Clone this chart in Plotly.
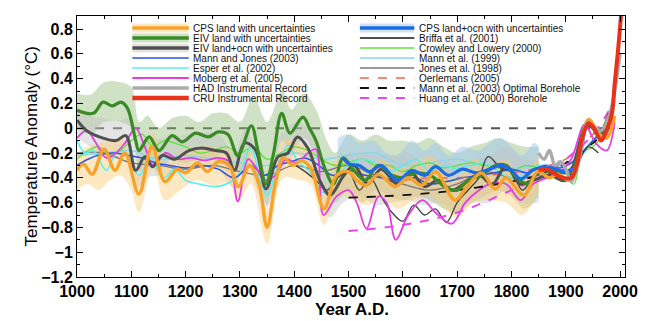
import plotly.graph_objects as go

# ---------------- DATA ----------------
cps_land_yr = [1000,1012,1028,1050,1070,1088,1114,1138,1162,1185,1200,1222,1240,1260,1280,1297,1318,1335,1350,1365,1380,1398,1412,1430,1455,1478,1500,1515,1533,1555,1585,1610,1635,1660,1696,1720,1745,1770,1790,1823,1848,1870,1885,1905,1920,1942,1962,1975,1990]
cps_land_val = [-0.34,-0.29,-0.37,-0.17,-0.34,-0.2,-0.53,-0.15,-0.43,-0.33,-0.36,-0.28,-0.35,-0.27,-0.3,-0.47,-0.3,-0.45,-0.8,-0.45,-0.24,-0.3,-0.26,-0.32,-0.65,-0.38,-0.35,-0.42,-0.46,-0.37,-0.47,-0.4,-0.46,-0.35,-0.58,-0.46,-0.36,-0.49,-0.4,-0.54,-0.35,-0.4,-0.37,-0.42,-0.3,0.07,-0.05,-0.08,0.1]

eiv_land_yr = [1000,1030,1048,1065,1081,1093,1108,1114,1133,1151,1175,1194,1218,1242,1260,1278,1296,1321,1333,1348,1362,1377,1392,1416,1428,1440,1456,1472,1490,1508,1530,1555,1580,1600,1625,1650,1680,1700,1720,1745,1770,1790,1810,1830,1850,1880,1910,1940,1960,1980]
eiv_land_val = [0.145,0.12,0.21,0.18,0.21,0.16,-0.1,-0.18,-0.07,-0.18,-0.06,-0.11,-0.04,-0.07,-0.03,-0.05,-0.22,0.02,-0.18,-0.45,-0.2,0.12,-0.04,0.09,0.0,-0.1,-0.32,-0.45,-0.24,-0.33,-0.42,-0.3,-0.38,-0.4,-0.36,-0.38,-0.48,-0.5,-0.42,-0.38,-0.3,-0.3,-0.4,-0.45,-0.35,-0.35,-0.35,0.05,-0.05,0.12]

eiv_lo_yr = [1000,1018,1048,1072,1090,1108,1125,1139,1157,1180,1206,1230,1255,1275,1290,1308,1328,1348,1370,1388,1406,1425,1448,1466,1490,1510,1535,1560,1590,1615,1640,1665,1690,1715,1740,1765,1790,1815,1840,1870,1900,1940,1965,1985]
eiv_lo_val = [0.065,-0.02,-0.08,-0.1,-0.06,-0.34,-0.23,-0.31,-0.22,-0.25,-0.18,-0.16,-0.18,-0.2,-0.34,-0.12,-0.17,-0.49,-0.23,-0.2,-0.07,-0.16,-0.43,-0.54,-0.39,-0.3,-0.45,-0.33,-0.45,-0.36,-0.47,-0.42,-0.5,-0.44,-0.38,-0.45,-0.3,-0.45,-0.42,-0.38,-0.42,0.02,-0.05,0.1]

cps_lo_yr = [1490,1502,1520,1539,1560,1590,1617,1640,1660,1684,1710,1735,1760,1781,1800,1817,1842,1870,1900,1920,1942,1965,1985]
cps_lo_val = [-0.24,-0.29,-0.3,-0.35,-0.3,-0.42,-0.34,-0.38,-0.31,-0.38,-0.33,-0.36,-0.33,-0.3,-0.34,-0.41,-0.33,-0.32,-0.35,-0.3,0.05,-0.08,0.12]

cru_yr = [1850,1865,1880,1895,1910,1920,1932,1942,1952,1965,1975,1985,1990,1996,2003]
cru_val = [-0.34,-0.33,-0.37,-0.4,-0.4,-0.3,-0.05,0.04,0.0,-0.1,-0.02,0.12,0.36,0.62,0.98]

had_yr = [1850,1860,1870,1880,1890,1900,1910,1925,1940,1950,1965,1980,1990,2000]
had_val = [-0.2,-0.25,-0.18,-0.3,-0.27,-0.33,-0.43,-0.25,0.05,0.02,-0.02,0.1,0.3,0.6]

mj_yr = [1000,1020,1045,1070,1095,1120,1145,1170,1200,1230,1260,1290,1320,1345,1370,1395,1420,1445,1470,1500,1530,1560,1590,1620,1650,1680,1710,1740,1770,1800,1830,1860,1890,1920,1950,1980]
mj_val = [-0.3,-0.25,-0.21,-0.2,-0.22,-0.24,-0.28,-0.3,-0.32,-0.3,-0.33,-0.4,-0.3,-0.38,-0.3,-0.27,-0.24,-0.3,-0.38,-0.34,-0.38,-0.4,-0.44,-0.4,-0.45,-0.43,-0.4,-0.38,-0.36,-0.33,-0.36,-0.3,-0.32,-0.25,-0.1,0.05]

esper_yr = [1000,1015,1030,1054,1072,1090,1114,1135,1160,1180,1200,1225,1254,1280,1300,1320,1339,1351,1370,1388,1406,1430,1454,1475,1500,1525,1550,1575,1600,1625,1650,1675,1700,1725,1750,1775,1800,1825,1850,1875,1900,1925,1950,1975,1990]
esper_val = [-0.1,-0.2,-0.18,-0.34,-0.2,-0.2,-0.38,-0.24,-0.4,-0.33,-0.42,-0.45,-0.47,-0.44,-0.36,-0.15,-0.45,-0.54,-0.3,-0.14,-0.26,-0.36,-0.52,-0.4,-0.3,-0.25,-0.28,-0.35,-0.3,-0.25,-0.35,-0.3,-0.33,-0.3,-0.28,-0.35,-0.4,-0.38,-0.3,-0.32,-0.36,-0.25,-0.1,-0.05,0.05]

moberg_yr = [1000,1018,1035,1054,1072,1090,1108,1125,1140,1163,1185,1210,1235,1260,1280,1296,1315,1330,1346,1365,1385,1405,1425,1440,1454,1478,1500,1515,1533,1555,1570,1587,1610,1636,1660,1690,1715,1740,1760,1790,1817,1840,1865,1890,1910,1935,1955,1975,1990]
moberg_val = [-0.08,-0.02,-0.12,-0.24,-0.2,-0.11,0.0,-0.15,-0.3,-0.2,-0.25,-0.24,-0.26,-0.24,-0.27,-0.59,-0.25,-0.32,-0.42,-0.38,-0.25,-0.28,-0.2,-0.17,-0.7,-0.55,-0.5,-0.6,-0.81,-0.55,-0.6,-0.9,-0.7,-0.58,-0.68,-0.77,-0.6,-0.5,-0.45,-0.45,-0.58,-0.45,-0.4,-0.35,-0.25,0.03,-0.12,-0.18,0.05]

crowley_yr = [1000,1020,1040,1060,1080,1100,1120,1140,1160,1180,1200,1225,1250,1275,1300,1325,1350,1375,1400,1425,1450,1475,1500,1525,1550,1575,1600,1625,1650,1675,1700,1725,1750,1775,1800,1825,1850,1875,1900,1915,1930,1950,1970]
crowley_val = [-0.25,-0.18,-0.15,-0.22,-0.18,-0.1,-0.05,-0.15,-0.1,-0.12,-0.15,-0.2,-0.18,-0.15,-0.2,-0.15,-0.25,-0.2,-0.15,-0.18,-0.25,-0.3,-0.28,-0.25,-0.3,-0.3,-0.35,-0.3,-0.28,-0.32,-0.3,-0.28,-0.3,-0.32,-0.35,-0.3,-0.32,-0.35,-0.4,-0.45,-0.2,-0.15,-0.05]

mann99_yr = [1000,1050,1100,1150,1200,1250,1300,1350,1400,1450,1500,1550,1600,1650,1700,1750,1800,1850,1900,1950,1980]
mann99_val = [-0.22,-0.2,-0.18,-0.25,-0.22,-0.25,-0.28,-0.3,-0.2,-0.25,-0.22,-0.2,-0.3,-0.28,-0.25,-0.3,-0.32,-0.3,-0.3,-0.1,0.0]

jones_yr = [1000,1050,1100,1150,1200,1250,1300,1350,1400,1450,1500,1550,1600,1650,1700,1750,1800,1850,1900,1950,1990]
jones_val = [-0.2,-0.2,-0.28,-0.3,-0.33,-0.3,-0.35,-0.38,-0.3,-0.35,-0.3,-0.38,-0.45,-0.5,-0.45,-0.35,-0.4,-0.38,-0.35,-0.1,0.0]

briffa_yr = [1402,1420,1440,1460,1480,1500,1520,1540,1560,1580,1600,1620,1640,1660,1680,1700,1720,1740,1757,1780,1800,1820,1840,1860,1880,1900,1920,1940,1960]
briffa_val = [-0.3,-0.35,-0.42,-0.5,-0.4,-0.35,-0.5,-0.4,-0.55,-0.68,-0.75,-0.62,-0.7,-0.65,-0.76,-0.6,-0.5,-0.4,-0.23,-0.32,-0.35,-0.5,-0.4,-0.35,-0.38,-0.35,-0.3,-0.15,-0.2]

oerl_yr = [1600,1650,1700,1750,1800,1850,1900,1950,1990]
oerl_val = [-0.42,-0.4,-0.4,-0.38,-0.36,-0.32,-0.25,-0.05,0.1]

mann03b_yr = [1500,1600,1700,1800,1850,1900,1950,1990]
mann03b_val = [-0.56,-0.54,-0.5,-0.43,-0.38,-0.28,-0.12,0.05]

huang_yr = [1500,1600,1700,1800,1850,1900,1950,1990]
huang_val = [-0.83,-0.78,-0.68,-0.5,-0.4,-0.25,-0.05,0.22]

# uncertainty bands
cps_land_band_yr = [1000,1020,1040,1060,1080,1100,1114,1140,1162,1190,1220,1250,1280,1297,1320,1350,1380,1410,1430,1455,1480,1510,1535,1560,1590,1620,1650,1700,1730,1760,1790,1820,1850]
cps_land_band_lo = [-0.5,-0.45,-0.5,-0.42,-0.38,-0.5,-0.68,-0.32,-0.58,-0.5,-0.42,-0.46,-0.45,-0.6,-0.45,-0.93,-0.4,-0.42,-0.45,-0.78,-0.55,-0.58,-0.62,-0.55,-0.65,-0.58,-0.55,-0.72,-0.6,-0.58,-0.6,-0.7,-0.5]
cps_land_band_hi = [-0.2,-0.15,-0.12,-0.1,-0.08,-0.2,-0.38,-0.03,-0.3,-0.2,-0.15,-0.15,-0.18,-0.33,-0.18,-0.66,-0.1,-0.12,-0.18,-0.5,-0.25,-0.3,-0.32,-0.25,-0.32,-0.28,-0.22,-0.42,-0.25,-0.3,-0.25,-0.4,-0.2]

eiv_land_band_yr = [1000,1025,1050,1080,1100,1115,1130,1150,1175,1200,1225,1250,1275,1300,1325,1350,1378,1395,1418,1440,1460,1475,1500,1525,1550,1575,1600,1625,1650,1675,1700,1725,1750,1775,1800,1825,1850]
eiv_land_band_hi = [0.28,0.27,0.37,0.37,0.33,0.05,0.1,0.0,0.08,0.1,0.05,0.12,0.12,0.05,0.25,0.05,0.3,0.15,0.28,0.15,-0.1,-0.2,-0.05,-0.1,-0.05,-0.1,-0.1,-0.12,-0.08,-0.15,-0.2,-0.15,-0.12,-0.08,-0.12,-0.15,-0.15]
eiv_land_band_lo = [0.0,-0.05,0.05,0.05,0.0,-0.35,-0.25,-0.35,-0.25,-0.28,-0.25,-0.25,-0.2,-0.38,-0.2,-0.62,-0.1,-0.2,-0.08,-0.25,-0.52,-0.6,-0.5,-0.6,-0.5,-0.55,-0.58,-0.55,-0.58,-0.65,-0.68,-0.6,-0.55,-0.5,-0.55,-0.65,-0.55]

eiv_lo_band_yr = [1000,1025,1050,1075,1100,1110,1130,1160,1200,1230,1260,1290,1310,1348,1370,1406,1430,1450,1466,1490,1520,1550,1580,1610,1640,1670,1700,1730,1760,1790,1820,1850]
eiv_lo_band_hi = [0.18,0.1,0.08,0.06,0.08,-0.18,-0.1,-0.08,-0.05,-0.03,-0.05,-0.2,0.0,-0.35,-0.08,0.05,-0.03,-0.25,-0.38,-0.22,-0.2,-0.22,-0.22,-0.2,-0.28,-0.25,-0.3,-0.25,-0.22,-0.15,-0.25,-0.25]
eiv_lo_band_lo = [-0.08,-0.15,-0.22,-0.25,-0.22,-0.48,-0.4,-0.38,-0.35,-0.3,-0.33,-0.48,-0.28,-0.65,-0.38,-0.22,-0.32,-0.6,-0.72,-0.6,-0.55,-0.62,-0.6,-0.58,-0.62,-0.6,-0.68,-0.6,-0.6,-0.5,-0.6,-0.6]

cps_lo_band_yr = [1480,1500,1520,1545,1570,1590,1617,1640,1660,1685,1710,1740,1760,1781,1800,1820,1842,1850]
cps_lo_band_hi = [-0.08,-0.05,-0.12,-0.1,-0.2,-0.22,-0.1,-0.18,-0.12,-0.22,-0.15,-0.18,-0.12,-0.08,-0.15,-0.22,-0.12,-0.15]
cps_lo_band_lo = [-0.28,-0.3,-0.32,-0.35,-0.33,-0.42,-0.35,-0.38,-0.32,-0.38,-0.34,-0.36,-0.34,-0.31,-0.35,-0.42,-0.34,-0.35]

x_ticks = [1000,1100,1200,1300,1400,1500,1600,1700,1800,1900,2000]
y_ticks = [-1.2,-1,-0.8,-0.6,-0.4,-0.2,0,0.2,0.4,0.6,0.8]

legend_left = ["CPS land with uncertainties","EIV land with uncertainties","EIV land+ocn with uncertainties",
               "Mann and Jones (2003)","Esper et al. (2002)","Moberg et al. (2005)",
               "HAD Instrumental Record","CRU Instrumental Record"]
legend_right = ["CPS land+ocn with uncertainties","Briffa et al. (2001)","Crowley and Lowery (2000)",
                "Mann et al. (1999)","Jones et al. (1998)","Oerlemans (2005)",
                "Mann et al. (2003) Optimal Borehole","Huang et al. (2000) Borehole"]

# ---------------- STYLES ----------------
C_ORANGE = "#F7A22B"; B_ORANGE = "rgba(250,205,120,0.45)"
C_GREEN = "#3A8A26";  B_GREEN = "rgba(140,185,120,0.42)"
C_DGRAY = "#505050";  B_GRAY = "rgba(195,195,195,0.45)"
C_BLUE = "#1C6BE6";   B_BLUE = "rgba(160,198,240,0.5)"
FONT = "Liberation Sans, Arial"

fig = go.Figure()

def band(x, lo, hi, color):
    fig.add_trace(go.Scatter(x=x, y=lo, mode="lines", line=dict(width=0, shape="spline"),
                             hoverinfo="skip", showlegend=False))
    fig.add_trace(go.Scatter(x=x, y=hi, mode="lines", line=dict(width=0, shape="spline"),
                             fill="tonexty", fillcolor=color, hoverinfo="skip", showlegend=False))

def line(x, y, color, width, dash="solid"):
    fig.add_trace(go.Scatter(x=x, y=y, mode="lines",
                             line=dict(color=color, width=width, dash=dash, shape="spline", smoothing=1.0),
                             hoverinfo="skip", showlegend=False))

band(eiv_land_band_yr, eiv_land_band_lo, eiv_land_band_hi, B_GREEN)
band(cps_lo_band_yr, cps_lo_band_lo, cps_lo_band_hi, B_BLUE)
band(eiv_lo_band_yr, eiv_lo_band_lo, eiv_lo_band_hi, B_GRAY)
band(cps_land_band_yr, cps_land_band_lo, cps_land_band_hi, B_ORANGE)

# thin reconstructions
line(mann99_yr, mann99_val, "#86D6EC", 1.3)
line(jones_yr, jones_val, "#7A7A7A", 1.3)
line(crowley_yr, crowley_val, "#62E23E", 1.3)
line(esper_yr, esper_val, "#58EEF0", 1.5)
line(mj_yr, mj_val, "#2A52E6", 1.5)
line(briffa_yr, briffa_val, "#404040", 1.3)
line(moberg_yr, moberg_val, "#E23EE2", 1.8)
line(oerl_yr, oerl_val, "#F26450", 1.5, "dash")
line(mann03b_yr, mann03b_val, "#111111", 1.8, "dash")
line(huang_yr, huang_val, "#E848E8", 2, "dash")

# thick reconstructions
line(eiv_lo_yr, eiv_lo_val, C_DGRAY, 3)
line(eiv_land_yr, eiv_land_val, C_GREEN, 3.2)
line(cps_lo_yr, cps_lo_val, C_BLUE, 3.2)
line(cps_land_yr, cps_land_val, C_ORANGE, 3.4)
line(had_yr, had_val, "#AAAAAA", 3.4)
line(cru_yr, cru_val, "#E8321C", 4)

# zero reference line
fig.add_shape(type="line", xref="x", yref="y", x0=1000, x1=1995, y0=0, y1=0,
              line=dict(color="#555555", width=2, dash="dash"), layer="below")

# ---------------- MANUAL LEGEND ----------------
L, R, T, B = 77, 631, 16, 277
def px(x): return (x - L) / (R - L)
def py(y): return (B - y) / (B - T)

left_style = [("band", C_ORANGE, B_ORANGE), ("band", C_GREEN, B_GREEN), ("band", C_DGRAY, B_GRAY),
              ("line", "#2A52E6", 1.5), ("line", "#58EEF0", 1.5), ("line", "#E23EE2", 1.8),
              ("line", "#AAAAAA", 3.5), ("line", "#E8321C", 4.5)]
right_style = [("band", C_BLUE, B_BLUE), ("line", "#505050", 2), ("line", "#62E23E", 1.3),
               ("line", "#86D6EC", 1.3), ("line", "#7A7A7A", 1.3), ("dash", "#F26450", 1.5),
               ("dash", "#111111", 2), ("dash", "#E848E8", 2)]
row_y = [28, 38, 48, 58, 68, 78, 88, 98]

def legend_col(x0, x1, xt, labels, styles):
    for lab, st, yy in zip(labels, styles, row_y):
        if st[0] == "band":
            fig.add_shape(type="rect", xref="paper", yref="paper", x0=px(x0), x1=px(x1),
                          y0=py(yy + 4.5), y1=py(yy - 4.5), line=dict(width=0), fillcolor=st[2])
            fig.add_shape(type="line", xref="paper", yref="paper", x0=px(x0), x1=px(x1),
                          y0=py(yy), y1=py(yy), line=dict(color=st[1], width=3.5))
        else:
            fig.add_shape(type="line", xref="paper", yref="paper", x0=px(x0), x1=px(x1),
                          y0=py(yy), y1=py(yy),
                          line=dict(color=st[1], width=st[2], dash="dash" if st[0] == "dash" else "solid"))
        fig.add_annotation(text=lab, xref="paper", yref="paper", x=px(xt), y=py(yy),
                           xanchor="left", yanchor="middle", showarrow=False, borderpad=0,
                           font=dict(family=FONT, size=10, color="#111111"))

legend_col(133, 190, 193, legend_left, left_style)
legend_col(363, 418, 422, legend_right, right_style)

# axis titles as annotations for exact placement
fig.add_annotation(text="Temperature Anomaly (\u00b0C)", xref="paper", yref="paper",
                   x=px(31), y=py(146), textangle=-90, showarrow=False,
                   xanchor="center", yanchor="middle",
                   font=dict(family=FONT, size=17, color="black"))
fig.add_annotation(text="Year A.D.", xref="paper", yref="paper",
                   x=px(355), y=py(309), showarrow=False, xanchor="center", yanchor="middle",
                   borderpad=0, font=dict(family=FONT, size=17, color="black", weight="bold"))

axis_common = dict(showline=True, linecolor="black", linewidth=1, mirror="ticks",
                   ticks="inside", ticklen=6, tickcolor="black", showgrid=False, zeroline=False,
                   tickfont=dict(family=FONT, size=16, color="black", weight="bold"))

fig.update_xaxes(range=[1000, 2009], tickvals=x_ticks, ticktext=[str(v) for v in x_ticks],
                 minor=dict(dtick=50, ticks="inside", ticklen=3, tickcolor="black"),
                 **axis_common)
fig.update_yaxes(range=[-1.2, 0.905], tickvals=y_ticks,
                 ticktext=[("\u2212" if v < 0 else "") + (f"{abs(v):g}") for v in y_ticks],
                 minor=dict(dtick=0.1, tick0=0, ticks="inside", ticklen=3, tickcolor="black"),
                 **axis_common)

fig.update_layout(width=650, height=321, margin=dict(l=77, r=19, t=16, b=44),
                  paper_bgcolor="white", plot_bgcolor="white", showlegend=False)

fig.write_html("out.html")
